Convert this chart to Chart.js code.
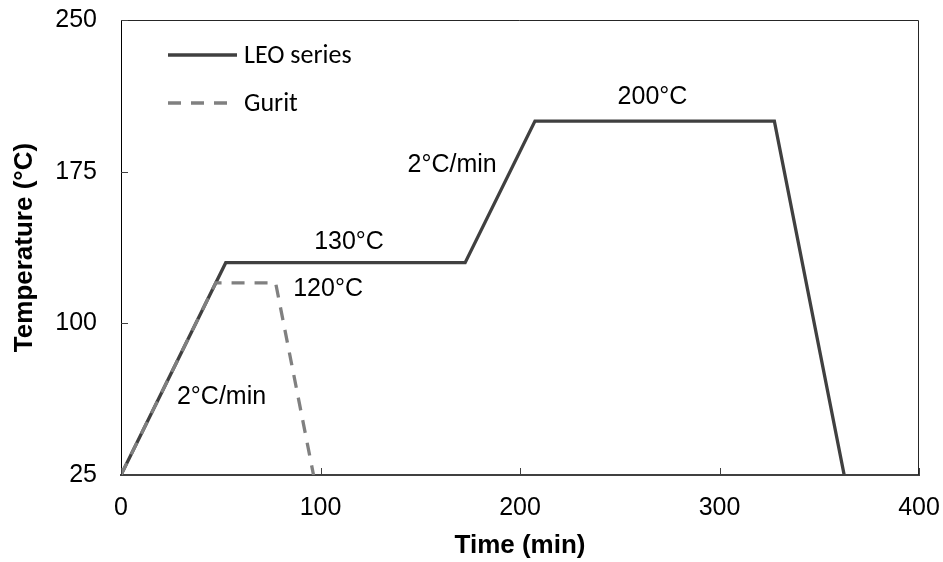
<!DOCTYPE html>
<html>
<head>
<meta charset="utf-8">
<script src="https://cdn.jsdelivr.net/npm/chart.js@4.4.1/dist/chart.umd.min.js"></script>
<style>
    html, body { margin: 0; padding: 0; background: #fff; }
    #wrap { width: 943px; height: 562px; }
</style>
</head>
<body>
<div id="wrap"><canvas id="cure-cycle" width="943" height="562"></canvas></div>
<script>
// cure cycles, time in min / temperature in °C
const leoTime = [0, 52.5, 172.5, 207.5, 327.5, 362.5];
const leoTemp = [25, 130, 130, 200, 200, 25];
const guritTime = [0, 47.5, 77.5, 96.5];
const guritTemp = [25, 120, 120, 25];

const seriesNames = ['LEO series', 'Gurit'];
const xTicks = [0, 100, 200, 300, 400];
const yTicks = [25, 100, 175, 250];

// text notes placed at data coordinates
const noteText = ['2°C/min', '200°C', '130°C', '120°C', '2°C/min'];
const noteX = [166, 266.4, 114.3, 103.8, 50.4];
const noteY = [178.3, 212, 140.4, 117.1, 63.3];

const FONT = '"Liberation Sans", Arial, sans-serif';

function toPoints(xs, ys) {
    return xs.map((x, i) => ({ x: x, y: ys[i] }));
}

// frame, inward tick marks, legend and notes
const extras = {
    id: 'extras',
    afterDatasetsDraw(chart) {
        const ctx = chart.ctx;
        const area = chart.chartArea;
        const xs = chart.scales.x;
        const ys = chart.scales.y;
        ctx.save();

        // top and right edges of the box
        ctx.strokeStyle = '#262626';
        ctx.lineWidth = 1;
        ctx.beginPath();
        ctx.moveTo(area.left, area.top + 0.5);
        ctx.lineTo(area.right - 0.5, area.top + 0.5);
        ctx.lineTo(area.right - 0.5, area.bottom);
        ctx.stroke();

        // inward ticks
        ctx.strokeStyle = '#404040';
        ctx.beginPath();
        xTicks.forEach(v => {
            const px = Math.round(xs.getPixelForValue(v)) + 0.5;
            ctx.moveTo(px, area.bottom);
            ctx.lineTo(px, area.bottom - 7);
        });
        yTicks.forEach(v => {
            const py = Math.round(ys.getPixelForValue(v)) + 0.5;
            ctx.moveTo(area.left, py);
            ctx.lineTo(area.left + 7, py);
        });
        ctx.stroke();

        // legend
        const sets = chart.data.datasets;
        ctx.lineWidth = 3.3;
        [55, 103].forEach((ly, i) => {
            ctx.strokeStyle = sets[i].borderColor;
            ctx.setLineDash(sets[i].borderDash || []);
            ctx.beginPath();
            ctx.moveTo(168, ly);
            ctx.lineTo(237, ly);
            ctx.stroke();
            ctx.setLineDash([]);
            ctx.fillStyle = '#000';
            ctx.font = '26px Carlito, Lato, "Open Sans", sans-serif';
            ctx.textAlign = 'left';
            ctx.textBaseline = 'middle';
            ctx.fillText(seriesNames[i], 244, ly + 1);
        });

        // notes
        ctx.font = '25px ' + FONT;
        ctx.textAlign = 'center';
        ctx.textBaseline = 'middle';
        ctx.fillStyle = '#000';
        noteText.forEach((t, i) => {
            ctx.fillText(t, xs.getPixelForValue(noteX[i]), ys.getPixelForValue(noteY[i]));
        });
        ctx.restore();
    }
};

const ctx = document.getElementById('cure-cycle').getContext('2d');
new Chart(ctx, {
    type: 'line',
    data: {
        datasets: [{
            label: seriesNames[0],
            data: toPoints(leoTime, leoTemp),
            borderColor: '#404040',
            borderWidth: 3.3,
            pointRadius: 0,
            order: 1
        }, {
            label: seriesNames[1],
            data: toPoints(guritTime, guritTemp),
            borderColor: '#808080',
            borderWidth: 3.3,
            borderDash: [13, 10],
            pointRadius: 0,
            order: 0
        }]
    },
    options: {
        responsive: false,
        animation: false,
        layout: { padding: { top: 20, right: 24, left: 0, bottom: 0 } },
        plugins: {
            legend: { display: false },
            tooltip: { enabled: false }
        },
        scales: {
            x: {
                type: 'linear',
                min: 0,
                max: 400,
                afterFit: s => { s.height = 87; s.paddingLeft = 0; s.paddingRight = 0; },
                afterBuildTicks: s => { s.ticks = xTicks.map(v => ({ value: v })); },
                ticks: { color: '#000', font: { family: FONT, size: 25 }, padding: 18, maxRotation: 0 },
                grid: { display: true, drawOnChartArea: false, drawTicks: false },
                border: { color: '#404040', width: 2 },
                title: {
                    display: true,
                    text: 'Time (min)',
                    color: '#000',
                    font: { family: FONT, size: 26, weight: 'bold' },
                    padding: { top: 0, bottom: 1 }
                }
            },
            y: {
                type: 'linear',
                min: 25,
                max: 250,
                afterFit: s => { s.width = 121; s.paddingTop = 0; s.paddingBottom = 0; },
                afterBuildTicks: s => { s.ticks = yTicks.map(v => ({ value: v })); },
                ticks: { color: '#000', font: { family: FONT, size: 25 }, padding: 24 },
                grid: { display: true, drawOnChartArea: false, drawTicks: false },
                border: { color: '#000', width: 1 },
                title: {
                    display: true,
                    text: 'Temperature (°C)',
                    color: '#000',
                    font: { family: FONT, size: 26, weight: 'bold' },
                    padding: { top: 9, bottom: 0 }
                }
            }
        }
    },
    plugins: [extras]
});
</script>
</body>
</html>
